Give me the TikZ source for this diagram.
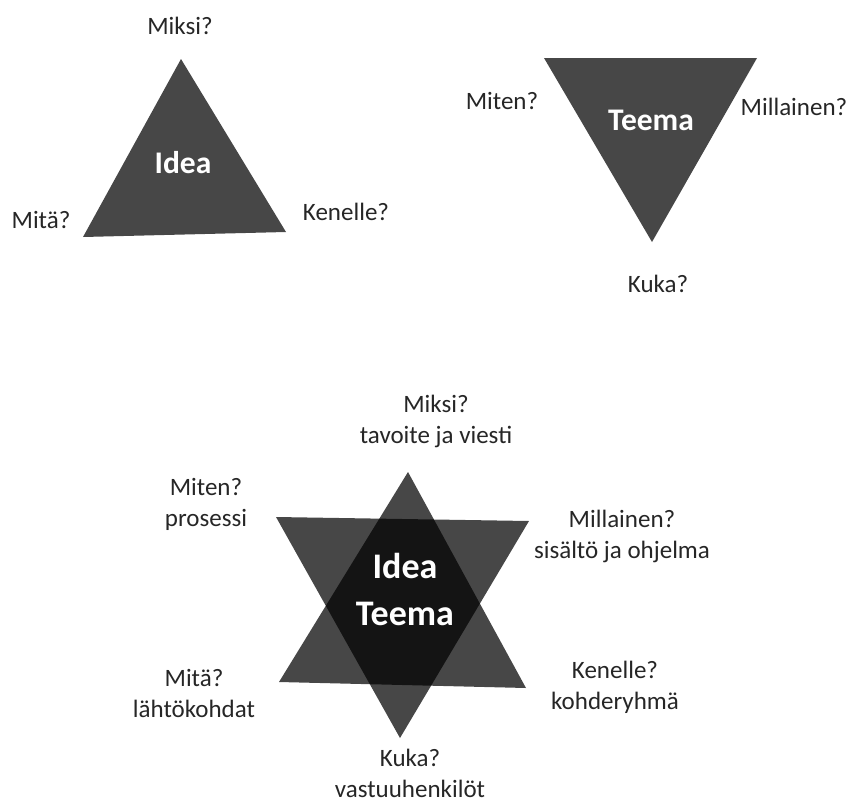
\documentclass[tikz,border=0pt]{standalone}
\usepackage{fontspec}
\setmainfont{Carlito}
\tikzset{
  tri/.style={fill=black!72},
  startri/.style={fill=black, fill opacity=0.72},
  lbl/.style={font=\fontsize{25}{30.5}\selectfont, text=black!85, align=center, inner sep=0pt, anchor=base},
  head/.style={font=\fontsize{31.5}{36}\selectfont\bfseries, text=white, inner sep=0pt, anchor=base},
  bighead/.style={font=\fontsize{36}{47}\selectfont\bfseries, text=white, align=center, inner sep=0pt, anchor=base},
}
\begin{document}
\begin{tikzpicture}[x=1pt, y=-1pt]
  \useasboundingbox (0,0) rectangle (851,803);
  % idea
  \fill[tri] (181,59) -- (286,232) -- (83,237) -- cycle;
  \node[head] (idea) at (183,173) {Idea};
  \node[lbl] (miksi) at (180,34) {Miksi?};
  \node[lbl] (mita) at (41,228) {Mitä?};
  \node[lbl] (kenelle) at (346,220) {Kenelle?};
  % teema
  \fill[tri] (544,58) -- (757,58) -- (652,242) -- cycle;
  \node[head] (teema) at (651,130) {Teema};
  \node[lbl] (miten) at (502,109) {Miten?};
  \node[lbl] (millainen) at (794,115) {Millainen?};
  \node[lbl] (kuka) at (658,292) {Kuka?};
  % star
  \fill[startri] (408,472) -- (526,688) -- (279,682) -- cycle;
  \fill[startri] (276,517) -- (529,521) -- (400,738) -- cycle;
  \node[bighead] (ideateema) at (405,625) {Idea\\Teema};
  \node[lbl] (smiksi) at (436,443) {Miksi?\\tavoite ja viesti};
  \node[lbl] (smiten) at (206,526) {Miten?\\prosessi};
  \node[lbl] (smillainen) at (622,558) {Millainen?\\sisältö ja ohjelma};
  \node[lbl] (smita) at (194,717) {Mitä?\\lähtökohdat};
  \node[lbl] (skenelle) at (615,709) {Kenelle?\\kohderyhmä};
  \node[lbl] (skuka) at (410,797) {Kuka?\\vastuuhenkilöt};
\end{tikzpicture}
\end{document}
